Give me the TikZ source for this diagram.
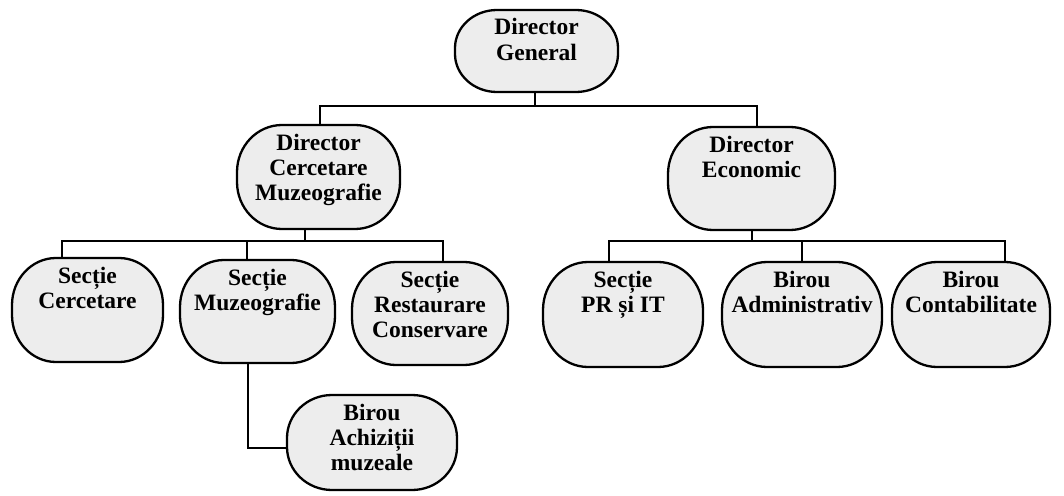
\documentclass[tikz,border=0pt]{standalone}
\usepackage{fontspec}
\setmainfont{Liberation Serif}
\usetikzlibrary{backgrounds}
\definecolor{boxfill}{HTML}{EDEDED}
\newcommand\bx[3]{\parbox[c][#2pt][t]{#1pt}{\centering\rule{0pt}{25pt}#3}}
\newcommand\orgshape[3]{%
  \draw[orgline] ([xshift=#2]#1.north west) -- ([xshift=-#2]#1.north east)
    arc[start angle=90,end angle=0,x radius=#2,y radius=#3]
    -- ([yshift=#3]#1.south east)
    arc[start angle=0,end angle=-90,x radius=#2,y radius=#3]
    -- ([xshift=#2]#1.south west)
    arc[start angle=270,end angle=180,x radius=#2,y radius=#3]
    -- ([yshift=-#3]#1.north west)
    arc[start angle=180,end angle=90,x radius=#2,y radius=#3] -- cycle;}
\begin{document}
\begin{tikzpicture}[x=1pt,y=1pt,
  orgtext/.style={inner sep=0pt,outer sep=0pt,font=\fontsize{23.5}{25.2}\selectfont\bfseries},
  orgline/.style={draw=black,fill=boxfill,line width=2.3pt},
  conn/.style={draw=black,line width=2.3pt}]
\useasboundingbox (0,0) rectangle (1064,-495);
% boxes
\node[orgtext] (dg)  at (536.5,-51)  {\bx{163}{82}{Director\\General}};
\node[orgtext] (dcm) at (318.5,-177) {\bx{163}{104}{Director\\Cercetare\\Muzeografie}};
\node[orgtext] (de)  at (751.5,-178.5) {\bx{167}{103}{Director\\Economic}};
\node[orgtext] (sc)  at (87.5,-310)  {\bx{151}{104}{Secție\\Cercetare}};
\node[orgtext] (sm)  at (257.5,-311.5) {\bx{155}{103}{Secție\\Muzeografie}};
\node[orgtext] (sr)  at (430,-313.5) {\bx{156}{103}{Secție\\Restaurare\\Conservare}};
\node[orgtext] (pr)  at (623,-314.5) {\bx{160}{105}{Secție\\PR și IT}};
\node[orgtext] (ba)  at (802,-314.5) {\bx{160}{105}{Birou\\Administrativ}};
\node[orgtext] (bc)  at (971,-314.5) {\bx{158}{105}{Birou\\Contabilitate}};
\node[orgtext] (bam) at (372,-442.5) {\bx{170}{95}{Birou\\Achiziții\\muzeale}};
\begin{pgfonlayer}{background}
  \orgshape{dg}{42}{38}
  \orgshape{dcm}{45}{47}
  \orgshape{de}{45}{47}
  \orgshape{sc}{44}{47}
  \orgshape{sm}{44}{47}
  \orgshape{sr}{44}{47}
  \orgshape{pr}{45}{48}
  \orgshape{ba}{45}{48}
  \orgshape{bc}{45}{48}
  \orgshape{bam}{45}{43}
\end{pgfonlayer}
% connector points
\coordinate (t0) at (535,-106);
\coordinate (tl) at (320,-106);
\coordinate (tr) at (757,-106);
\coordinate (m0) at (305,-241);
\coordinate (ml) at (62,-241);
\coordinate (mm) at (247,-241);
\coordinate (mr) at (443,-241);
\coordinate (e0) at (752,-241);
\coordinate (el) at (609,-241);
\coordinate (em) at (802,-241);
\coordinate (er) at (1005,-241);
\coordinate (k)  at (248,-448);
% connectors
\draw[conn] (dg.south -| t0) -- (t0);
\draw[conn] (dcm.north -| tl) -- (tl) -- (tr) -- (de.north -| tr);
\draw[conn] (dcm.south -| m0) -- (m0);
\draw[conn] (sc.north -| ml) -- (ml) -- (mr) -- (sr.north -| mr);
\draw[conn] (mm) -- (sm.north -| mm);
\draw[conn] (de.south -| e0) -- (e0);
\draw[conn] (pr.north -| el) -- (el) -- (er) -- (bc.north -| er);
\draw[conn] (em) -- (ba.north -| em);
\draw[conn] (sm.south -| k) -- (k) -- (bam.west |- k);
\end{tikzpicture}
\end{document}
